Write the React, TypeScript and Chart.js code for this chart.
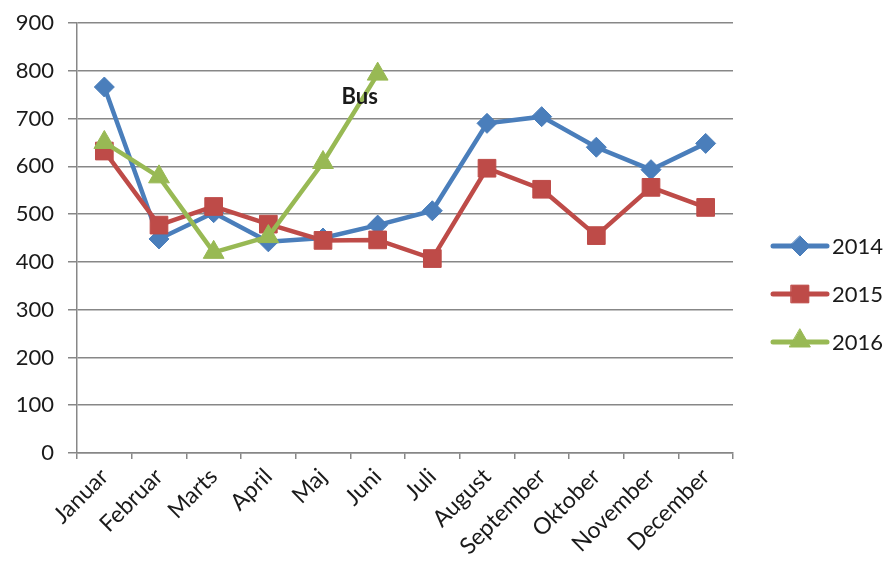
import React, { useEffect, useRef } from "react";
import { Chart, registerables } from "chart.js";

Chart.register(...registerables);

const months = ["Januar", "Februar", "Marts", "April", "Maj", "Juni", "Juli", "August", "September", "Oktober", "November", "December"];
const values2014 = [766, 448, 503, 442, 450, 477, 507, 690, 704, 640, 593, 648];
const values2015 = [632, 477, 516, 479, 445, 446, 407, 596, 552, 455, 556, 514];
const values2016 = [650, 578, 420, 453, 608, 793, null, null, null, null, null, null];
const seriesNames = ["2014", "2015", "2016"];
const seriesColors = ["#4A7EBB", "#BE4B48", "#98B954"];
const seriesMarkers = ["rectRot", "rect", "triangle"];
const annotationText = "Bus";

const FONT = "Lato, 'Open Sans', sans-serif";
const GRID = "#878787";

function drawMarker(ctx: CanvasRenderingContext2D, style: string, r: number, x: number, y: number) {
  ctx.beginPath();
  if (style === "rectRot") {
    ctx.moveTo(x, y - r);
    ctx.lineTo(x + r, y);
    ctx.lineTo(x, y + r);
    ctx.lineTo(x - r, y);
  } else if (style === "rect") {
    const s = r / Math.SQRT2;
    ctx.rect(x - s, y - s, 2 * s, 2 * s);
  } else {
    for (let k = 0; k < 3; k++) {
      const a = (k * 2 * Math.PI) / 3;
      const px = x + Math.sin(a) * r;
      const py = y - Math.cos(a) * r;
      if (k === 0) ctx.moveTo(px, py);
      else ctx.lineTo(px, py);
    }
  }
  ctx.closePath();
  ctx.fill();
  ctx.stroke();
}

export default function App() {
  const ref = useRef<HTMLCanvasElement | null>(null);
  useEffect(() => {
    document.body.style.margin = "0";
    const canvas = ref.current!;
    const radii = [10, 12.5, 12];

    const customPlugin = {
      id: "custom",
      afterDatasetsDraw(chart: any) {
        const ctx = chart.ctx;
        const xs = chart.scales.x;
        const ys = chart.scales.y;
        ctx.save();
        ctx.font = `bold 22px ${FONT}`;
        ctx.fillStyle = "#1a1a1a";
        ctx.textAlign = "center";
        ctx.textBaseline = "middle";
        ctx.fillText(annotationText, xs.getPixelForValue(5) - 18, ys.getPixelForValue(745));
        ctx.restore();

        const area = chart.chartArea;
        const lx0 = area.right + 40;
        const lx1 = area.right + 94;
        const ly0 = 246;
        for (let i = 0; i < seriesNames.length; i++) {
          const y = ly0 + i * 48;
          ctx.save();
          ctx.strokeStyle = seriesColors[i];
          ctx.lineWidth = 5;
          ctx.lineCap = "round";
          ctx.beginPath();
          ctx.moveTo(lx0, y);
          ctx.lineTo(lx1, y);
          ctx.stroke();
          ctx.fillStyle = seriesColors[i];
          ctx.lineWidth = 1;
          drawMarker(ctx, seriesMarkers[i], radii[i], (lx0 + lx1) / 2, i === 2 ? y - 1 : y);
          ctx.fillStyle = "#1a1a1a";
          ctx.font = `22px ${FONT}`;
          ctx.textAlign = "left";
          ctx.textBaseline = "middle";
          ctx.fillText(seriesNames[i], lx1 + 5, y + 1);
          ctx.restore();
        }
      },
    };

    const mk = (i: number, data: (number | null)[], order: number) => ({
      label: seriesNames[i],
      data,
      borderColor: seriesColors[i],
      backgroundColor: seriesColors[i],
      borderWidth: 4.5,
      pointStyle: seriesMarkers[i],
      pointRadius: radii[i],
      pointHoverRadius: radii[i],
      pointBorderWidth: 1,
      pointBackgroundColor: seriesColors[i],
      pointBorderColor: seriesColors[i],
      tension: 0,
      spanGaps: false,
      order,
    });

    const chart = new Chart(canvas, {
      type: "line",
      data: {
        labels: months,
        datasets: [mk(0, values2014, 2), mk(1, values2015, 1), mk(2, values2016, 0)],
      },
      options: {
        animation: false,
        responsive: false,
        maintainAspectRatio: false,
        layout: { padding: { top: 23, right: 154, left: 0, bottom: 0 } },
        plugins: { legend: { display: false }, tooltip: { enabled: false } },
        scales: {
          x: {
            offset: true,
            grid: { display: true, drawOnChartArea: false, drawTicks: true, tickLength: 6, color: GRID, lineWidth: 1.5, offset: true },
            border: { display: true, color: GRID, width: 1.5 },
            ticks: {
              color: "#1a1a1a",
              font: { family: FONT, size: 23 },
              maxRotation: 45,
              minRotation: 45,
              autoSkip: false,
              padding: 4,
            },
            afterFit: (s: any) => { s.height = 118; s.paddingLeft = 0; s.paddingRight = 0; },
          },
          y: {
            min: 0,
            max: 900,
            ticks: { stepSize: 100, color: "#1a1a1a", font: { family: FONT, size: 22 }, padding: 14 },
            grid: { color: GRID, lineWidth: 1.5, tickLength: 9 },
            border: { display: true, color: GRID, width: 1.5 },
            afterFit: (s: any) => { s.width = 77; s.paddingTop = 0; s.paddingBottom = 0; },
          },
        },
      },
      plugins: [customPlugin],
    } as any);
    return () => chart.destroy();
  }, []);
  return <canvas ref={ref} width={887} height={571} style={{ display: "block" }} />;
}
